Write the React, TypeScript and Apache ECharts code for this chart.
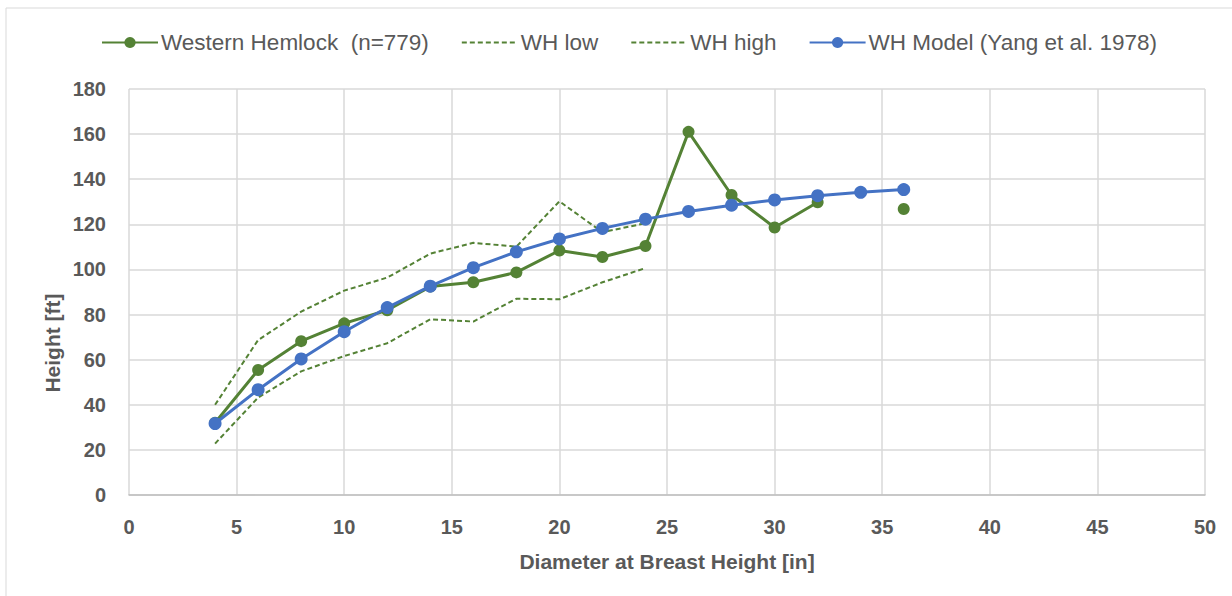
import React, { useEffect, useRef } from "react";
import * as echarts from "echarts";

const dbh = [4, 6, 8, 10, 12, 14, 16, 18, 20, 22, 24, 26, 28, 30, 32, 34, 36];
const hemlock = [32, 55.4, 68.2, 76.1, 81.9, 92.4, 94.3, 98.7, 108.4, 105.5, 110.4, 161, 133, 118.6, 129.8, null, 126.8];
const whLow = [22.8, 43.2, 54.8, 61.6, 67.3, 77.9, 76.9, 87, 86.8, 94.3, 100.6];
const whHigh = [40, 68.7, 81.3, 90.6, 96.4, 107, 111.8, 110.1, 130.2, 116.5, 120.5];
const whModel = [31.7, 46.7, 60.3, 72.4, 83.1, 92.6, 100.8, 107.8, 113.5, 118.2, 122.3, 125.7, 128.5, 130.8, 132.7, 134.2, 135.4];

const xTicksMax = 50;
const yTicksMax = 180;

const GREEN = "#548235";
const BLUE = "#4472C4";
const TEXT = "#595959";
const FONT = "Liberation Sans";

const pairs = (ys: (number | null)[]) => ys.map((y, i) => [dbh[i], y == null ? "-" : y]);

export default function App() {
  const ref = useRef<HTMLDivElement>(null);
  useEffect(() => {
    if (!ref.current) return;
    const chart = echarts.init(ref.current, undefined, { renderer: "svg" });
    chart.setOption({
      animation: false,
      backgroundColor: "#fff",
      textStyle: { fontFamily: FONT },
      graphic: [
        {
          type: "rect",
          shape: { x: 6, y: 8, width: 1300, height: 700 },
          style: { fill: "none", stroke: "#d9d9d9", lineWidth: 1 },
          silent: true,
          z: -1,
        },
        {
          type: "text",
          x: 52,
          y: 343,
          rotation: Math.PI / 2,
          style: {
            text: "Height [ft]",
            fill: TEXT,
            font: `bold 21px '${FONT}'`,
            align: "center",
            verticalAlign: "middle",
          },
        },
      ],
      legend: {
        left: 96,
        top: 26,
        itemWidth: 56,
        itemHeight: 14,
        itemGap: 32,
        textStyle: { color: TEXT, fontSize: 22.5, fontFamily: FONT, padding: [0, 0, 0, -2] },
        data: [
          { name: "Western Hemlock  (n=779)" },
          { name: "WH low", itemStyle: { opacity: 0 } },
          { name: "WH high", itemStyle: { opacity: 0 } },
          { name: "WH Model (Yang et al. 1978)" },
        ],
      },
      grid: { left: 129, right: 27, top: 89, bottom: 101 },
      xAxis: {
        type: "value",
        min: 0,
        max: xTicksMax,
        interval: 5,
        name: "Diameter at Breast Height [in]",
        nameLocation: "middle",
        nameGap: 56,
        nameTextStyle: { color: TEXT, fontSize: 21, fontWeight: "bold", fontFamily: FONT },
        axisLine: { show: true, lineStyle: { color: "#bfbfbf", width: 1.5 } },
        axisTick: { show: false },
        axisLabel: { color: TEXT, fontSize: 20, fontWeight: "bold", margin: 22, fontFamily: FONT },
        splitLine: { show: true, lineStyle: { color: "#d9d9d9", width: 1.5 } },
      },
      yAxis: {
        type: "value",
        min: 0,
        max: yTicksMax,
        interval: 20,
        axisLine: { show: false },
        axisTick: { show: false },
        axisLabel: { color: TEXT, fontSize: 20, fontWeight: "bold", margin: 23, fontFamily: FONT },
        splitLine: { show: true, lineStyle: { color: "#d9d9d9", width: 1.5 } },
      },
      series: [
        {
          name: "Western Hemlock  (n=779)",
          type: "line",
          data: pairs(hemlock),
          symbol: "circle",
          symbolSize: 12,
          connectNulls: false,
          itemStyle: { color: GREEN },
          lineStyle: { color: GREEN, width: 3 },
          z: 3,
        },
        {
          name: "WH low",
          type: "line",
          data: pairs(whLow),
          symbol: "none",
          itemStyle: { color: GREEN },
          lineStyle: { color: GREEN, width: 2, type: [5, 3] },
          z: 2,
        },
        {
          name: "WH high",
          type: "line",
          data: pairs(whHigh),
          symbol: "none",
          itemStyle: { color: GREEN },
          lineStyle: { color: GREEN, width: 2, type: [5, 3] },
          z: 2,
        },
        {
          name: "WH Model (Yang et al. 1978)",
          type: "line",
          data: pairs(whModel),
          symbol: "circle",
          symbolSize: 13,
          itemStyle: { color: BLUE },
          lineStyle: { color: BLUE, width: 3 },
          z: 4,
        },
      ],
    });
    return () => chart.dispose();
  }, []);
  return (
    <div
      ref={ref}
      style={{ position: "fixed", left: 0, top: 0, width: 1232, height: 596 }}
    />
  );
}
